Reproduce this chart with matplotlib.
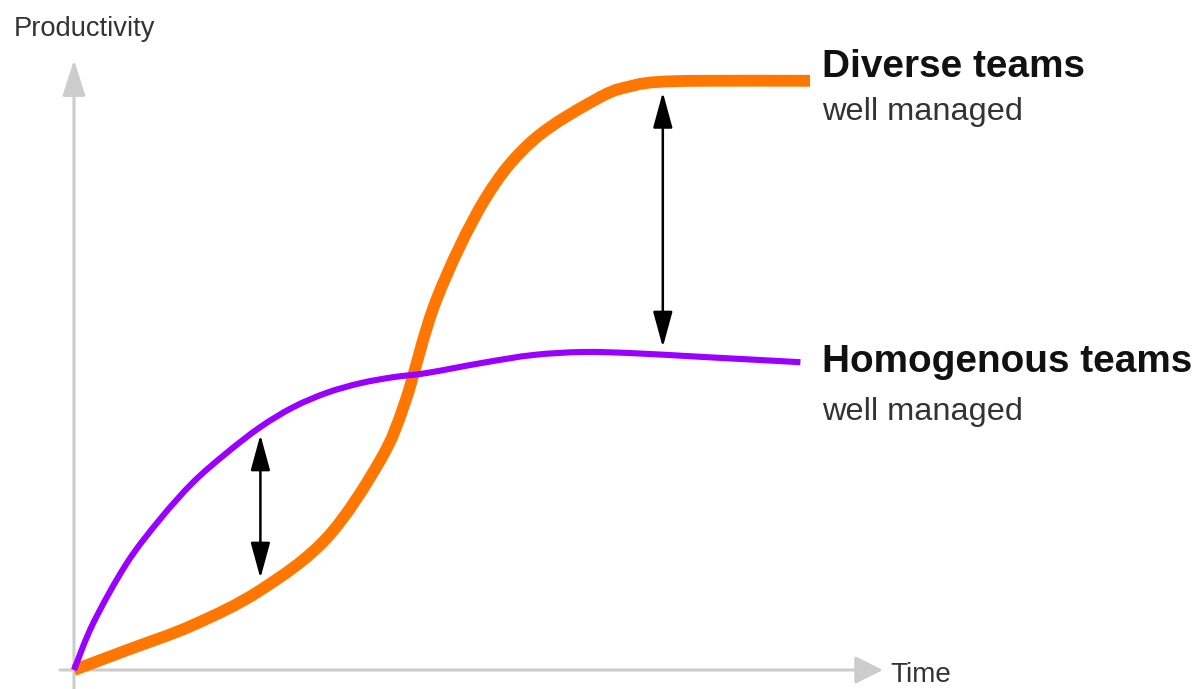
import matplotlib
matplotlib.use("Agg")
import matplotlib.pyplot as plt
from matplotlib.patches import FancyArrowPatch, PathPatch
from matplotlib.path import Path
from matplotlib import font_manager as fm

# ---- data (time units, productivity units) ----
diverse_t = [0.0, 0.66, 1.49, 2.33, 3.16, 3.83, 4.14, 4.53, 5.13, 5.74, 6.58, 6.99, 7.29, 7.83, 9.20]
diverse_p = [0.0, 0.33, 0.75, 1.33, 2.20, 3.50, 4.47, 6.17, 7.83, 8.83, 9.55, 9.74, 9.80, 9.82, 9.82]

homog_t = [0.0, 0.24, 0.66, 1.08, 1.49, 1.91, 2.33, 2.74, 3.16, 3.58, 3.99, 4.41,
           5.11, 5.74, 6.36, 6.99, 7.83, 9.08]
homog_p = [0.0, 0.78, 1.78, 2.52, 3.13, 3.62, 4.05, 4.38, 4.62, 4.78, 4.88, 4.95,
           5.12, 5.25, 5.30, 5.28, 5.22, 5.13]

gap_t = [2.33, 7.36]
gap_top = [3.92, 9.63]
gap_bottom = [1.53, 5.38]

series_titles = ["Diverse teams", "Homogenous teams"]
series_sub = ["well managed", "well managed"]
y_label = "Productivity"
x_label = "Time"

# ---- fonts ----
names = {f.name for f in fm.fontManager.ttflist}
if "Liberation Sans Narrow" in names:
    fam = ["Liberation Sans Narrow", "DejaVu Sans"]
    k = 1.0
else:
    fam = ["Liberation Sans", "DejaVu Sans"]
    k = 0.82

ORANGE = "#FF7700"
PURPLE = "#9900FF"
GRAY = "#CCCCCC"


def smooth_path(xs, ys):
    """Cubic Bezier path passing through the given points (Catmull-Rom tangents)."""
    pts = list(zip(xs, ys))
    n = len(pts)
    verts = [pts[0]]
    codes = [Path.MOVETO]
    for i in range(n - 1):
        p0 = pts[i - 1] if i > 0 else pts[i]
        p1 = pts[i]
        p2 = pts[i + 1]
        p3 = pts[i + 2] if i + 2 < n else pts[i + 1]
        c1 = (p1[0] + (p2[0] - p0[0]) / 6, p1[1] + (p2[1] - p0[1]) / 6)
        c2 = (p2[0] - (p3[0] - p1[0]) / 6, p2[1] - (p3[1] - p1[1]) / 6)
        verts += [c1, c2, p2]
        codes += [Path.CURVE4] * 3
    return Path(verts, codes)


fig = plt.figure(figsize=(11.96, 6.89), dpi=100)
ax = fig.add_axes([0, 0, 1, 1])
ax.set_xlim(-74 / 80, (1196 - 74) / 80)
ax.set_ylim(-19 / 60, 670 / 60)
ax.axis("off")

# axes arrows
ax.add_patch(FancyArrowPatch((0, -0.32), (0, 10.17), arrowstyle="-|>,head_length=22,head_width=7",
                             mutation_scale=1, color=GRAY, lw=2.2, shrinkA=0, shrinkB=0, zorder=1))
ax.add_patch(FancyArrowPatch((-0.175, 0), (10.11, 0), arrowstyle="-|>,head_length=17,head_width=8.5",
                             mutation_scale=1, color=GRAY, lw=2.2, shrinkA=0, shrinkB=0, zorder=1))

ax.add_patch(PathPatch(smooth_path(diverse_t, diverse_p), facecolor="none", edgecolor=ORANGE,
                       lw=8.5, capstyle="butt", joinstyle="round", zorder=2))
ax.add_patch(PathPatch(smooth_path(homog_t, homog_p), facecolor="none", edgecolor=PURPLE,
                       lw=4.4, capstyle="butt", joinstyle="round", zorder=3))

for t, a, b in zip(gap_t, gap_top, gap_bottom):
    ax.add_patch(FancyArrowPatch((t, b), (t, a), arrowstyle="<|-|>,head_length=22,head_width=6",
                                 mutation_scale=1, color="black", lw=1.8, shrinkA=0, shrinkB=0, zorder=4))

ax.text(-0.75, 10.57, y_label, family=fam, fontsize=24 * k, color="#333333", va="baseline", ha="left")
ax.text(10.2, -0.2, x_label, family=fam, fontsize=24.5 * k, color="#333333", va="baseline", ha="left")

ax.text(9.35, 9.883, series_titles[0], family=fam, fontsize=34 * k, fontweight="bold", color="#111111",
        va="baseline", ha="left")
ax.text(9.35, 9.167, series_sub[0], family=fam, fontsize=28.5 * k, color="#333333", va="baseline", ha="left")
ax.text(9.35, 4.967, series_titles[1], family=fam, fontsize=34 * k, fontweight="bold", color="#111111",
        va="baseline", ha="left")
ax.text(9.35, 4.167, series_sub[1], family=fam, fontsize=28.5 * k, color="#333333", va="baseline", ha="left")

fig.savefig("out.png", dpi=100)
